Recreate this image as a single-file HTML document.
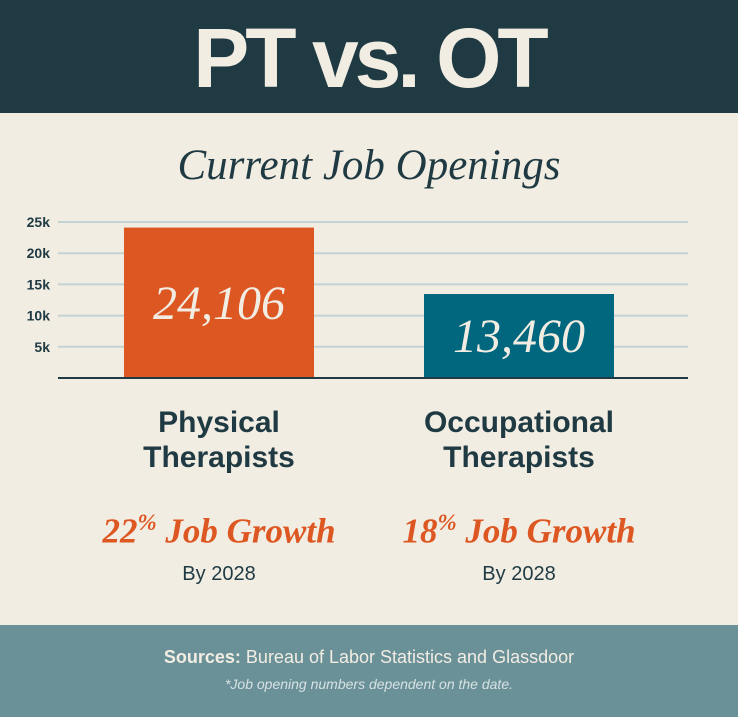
<!DOCTYPE html>
<html><head><meta charset="utf-8">
<style>
body{margin:0;width:738px;height:717px;overflow:hidden;background:#f2ede3;font-family:"Liberation Sans",sans-serif;position:relative}
.hdr{position:absolute;left:0;top:0;width:738px;height:113px;background:#1f3a42}
.title{position:absolute;left:0;top:8px;width:738px;text-align:center;font-weight:bold;font-size:84px;color:#f2ede3;letter-spacing:-4px;line-height:100px}
.sub{position:absolute;left:0;top:141px;width:738px;text-align:center;font-family:"Liberation Serif",serif;font-style:italic;font-size:43px;color:#1f3a42}
.lbl{position:absolute;width:300px;text-align:center;font-weight:bold;font-size:30px;color:#1f3a42;line-height:35px}
.grow{position:absolute;width:300px;text-align:center;font-family:"Liberation Serif",serif;font-style:italic;font-weight:bold;font-size:35px;color:#dd5722}
.grow sup{font-size:23px}
.by{position:absolute;width:300px;text-align:center;font-size:20px;color:#1f3a42}
.ftr{position:absolute;left:0;top:625px;width:738px;height:92px;background:#6b9198}
</style></head><body>
<div class="hdr"></div>
<div class="title">PT vs. OT</div>
<div class="sub">Current Job Openings</div>
<svg id="chart" width="738" height="400" style="position:absolute;left:0;top:0"></svg>
<div class="lbl" style="left:69px;top:405px">Physical<br>Therapists</div>
<div class="lbl" style="left:369px;top:405px">Occupational<br>Therapists</div>
<div class="grow" style="left:69px;top:510px">22<sup>%</sup> Job Growth</div>
<div class="grow" style="left:369px;top:510px">18<sup>%</sup> Job Growth</div>
<div class="by" style="left:69px;top:563px">By 2028</div>
<div class="by" style="left:369px;top:563px">By 2028</div>
<div class="ftr">
<div style="position:absolute;top:22px;width:738px;text-align:center;color:#f2ede3;font-size:18px"><b>Sources:</b> Bureau of Labor Statistics and Glassdoor</div>
<div style="position:absolute;top:51px;width:738px;text-align:center;color:#d7e2e3;font-size:14px;font-style:italic">*Job opening numbers dependent on the date.</div>
</div>
<script>
const categories=["Physical Therapists","Occupational Therapists"];
const values=[24106,13460];
const valueLabels=["24,106","13,460"];
const colors=["#dd5722","#00677f"];
const ticks=[5000,10000,15000,20000,25000];
const tickLabels=["5k","10k","15k","20k","25k"];
const svg=document.getElementById('chart');
const NS='http://www.w3.org/2000/svg';
const y=v=>378-v*156/25000;
const xs=i=>124+i*300;
function mk(t,a){const e=document.createElementNS(NS,t);for(const k in a)e.setAttribute(k,a[k]);svg.appendChild(e);return e;}
ticks.forEach((t,i)=>{
 const l=mk('line',{x1:58,x2:688,y1:y(t),y2:y(t),stroke:'#c3d3d3','stroke-width':2});
 
 
 const tx=mk('text',{x:50,y:y(t)+5,'text-anchor':'end','font-family':'Liberation Sans, sans-serif','font-weight':'bold','font-size':14,fill:'#1f3a42'});
 tx.textContent=tickLabels[i];
 
 
});
values.forEach((v,i)=>{
 const r=mk('rect',{x:xs(i),y:y(v),width:190,height:378-y(v),fill:colors[i]});
 
 
 const t=mk('text',{x:xs(i)+95,y:(y(v)+378)/2+16,'text-anchor':'middle','font-family':'Liberation Serif, serif','font-style':'italic','font-size':48,fill:'#f2ede3'});
 t.textContent=valueLabels[i];
 
 
});
const b=mk('line',{x1:58,x2:688,y1:378,y2:378,stroke:'#1f3a42','stroke-width':2});


</script>
</body></html>
